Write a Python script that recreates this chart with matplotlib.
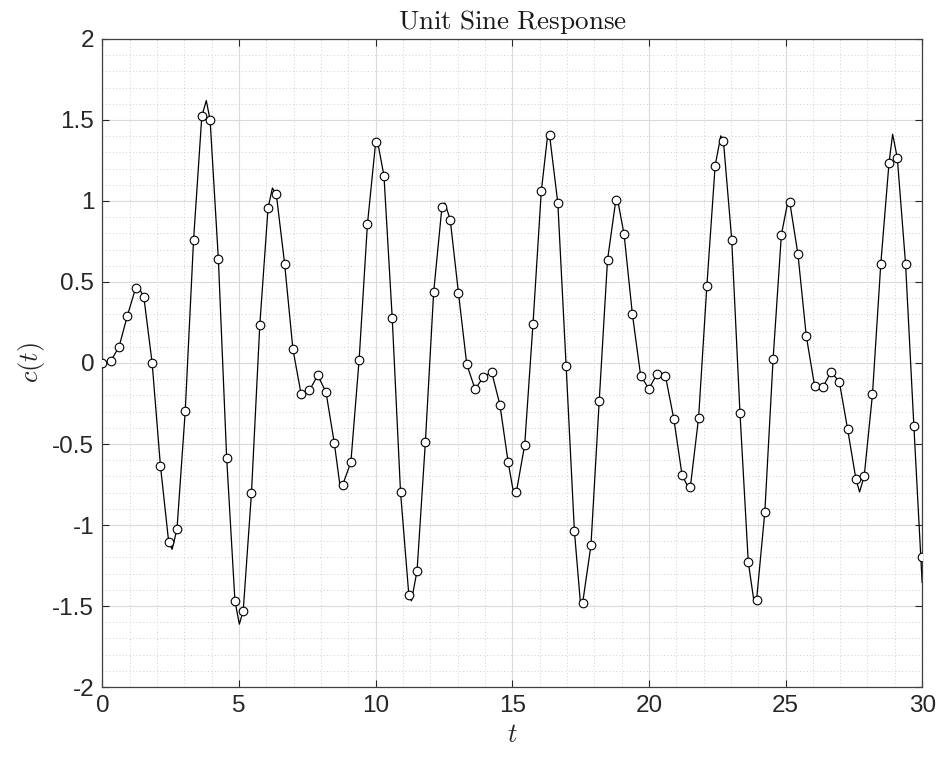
import numpy as np
import matplotlib
matplotlib.use("Agg")
import matplotlib.pyplot as plt
from matplotlib.ticker import MultipleLocator

# Sampled response (markers)
t_samples = np.linspace(0, 30, 100)
c_samples = [
    0.000, 0.012, 0.100, 0.290, 0.462, 0.406, 0.000, -0.633, -1.105, -1.026,
    -0.295, 0.757, 1.523, 1.500, 0.640, -0.585, -1.468, -1.530, -0.800, 0.232,
    0.956, 1.040, 0.613, 0.086, -0.194, -0.169, -0.076, -0.180, -0.494, -0.754,
    -0.613, 0.020, 0.855, 1.364, 1.155, 0.275, -0.797, -1.430, -1.281, -0.489,
    0.436, 0.961, 0.885, 0.431, -0.008, -0.161, -0.088, -0.055, -0.257, -0.613,
    -0.794, -0.504, 0.242, 1.059, 1.407, 0.986, -0.018, -1.037, -1.480, -1.125,
    -0.232, 0.636, 1.004, 0.794, 0.303, -0.078, -0.159, -0.066, -0.081, -0.343,
    -0.691, -0.767, -0.338, 0.477, 1.218, 1.369, 0.762, -0.310, -1.228, -1.464,
    -0.920, 0.025, 0.792, 0.996, 0.671, 0.169, -0.139, -0.149, -0.055, -0.116,
    -0.409, -0.716, -0.699, -0.194, 0.608, 1.236, 1.266, 0.610, -0.388, -1.198,
]

# Extra points of the continuous curve (extrema between samples, end point)
curve_extra_t = [1.32, 2.55, 3.80, 5.01, 6.22, 8.70, 10.06, 11.31, 12.53, 15.05,
                 16.30, 17.50, 18.85, 21.47, 22.63, 23.85, 25.10, 27.71, 28.92, 30.0]
curve_extra_c = [0.470, -1.150, 1.620, -1.612, 1.080, -0.765, 1.375, -1.468, 0.988, -0.805,
                 1.415, -1.495, 1.012, -0.780, 1.402, -1.478, 1.008, -0.796, 1.412, -1.354]

# Continuous curve = samples (except the last) + extra points, ordered in time
line_t = np.concatenate([t_samples[:-1], curve_extra_t])
line_c = np.concatenate([c_samples[:-1], curve_extra_c])
order = np.argsort(line_t)
line_t = line_t[order]
line_c = line_c[order]

plt.rcParams["mathtext.fontset"] = "cm"
plt.rcParams["font.family"] = ["Liberation Sans", "DejaVu Sans"]

fig = plt.figure(figsize=(9.40, 7.61), dpi=100)
ax = fig.add_axes([0.109, 0.0972, 0.872, 0.8516])

ax.plot(line_t, line_c, color="black", lw=0.9, zorder=3, solid_joinstyle="round")
ax.plot(t_samples, c_samples, linestyle="none", marker="o", ms=6.2,
        mfc="white", mec="black", mew=0.8, zorder=4)

ax.set_xlim(0, 30)
ax.set_ylim(-2, 2)
ax.xaxis.set_major_locator(MultipleLocator(5))
ax.xaxis.set_minor_locator(MultipleLocator(1))
ax.yaxis.set_minor_locator(MultipleLocator(0.1))

ax.set_yticks([-2, -1.5, -1, -0.5, 0, 0.5, 1, 1.5, 2])
ax.set_yticklabels(["-2", "-1.5", "-1", "-0.5", "0", "0.5", "1", "1.5", "2"])

ax.grid(which="major", color="#dadada", lw=0.8, ls="-", zorder=0)
ax.grid(which="minor", color="#cfcfcf", lw=0.7, ls=(0, (1, 2.5)), zorder=0)
ax.set_axisbelow(True)

ax.tick_params(which="major", direction="in", length=5, width=0.8,
               top=True, right=True, color="#262626",
               labelsize=17.5, labelcolor="#262626", pad=6)
ax.tick_params(which="minor", length=0)
for s in ax.spines.values():
    s.set_color("#404040")
    s.set_linewidth(0.9)

ax.set_title(r"$\mathrm{Unit\ Sine\ Response}$", fontsize=19.5, pad=7, color="#1a1a1a")
ax.set_xlabel(r"$t$", fontsize=19, labelpad=4, color="#262626")
ax.set_ylabel(r"$c(t)$", fontsize=19, labelpad=4, color="#262626")

fig.savefig("out.png", dpi=100, facecolor="white")
